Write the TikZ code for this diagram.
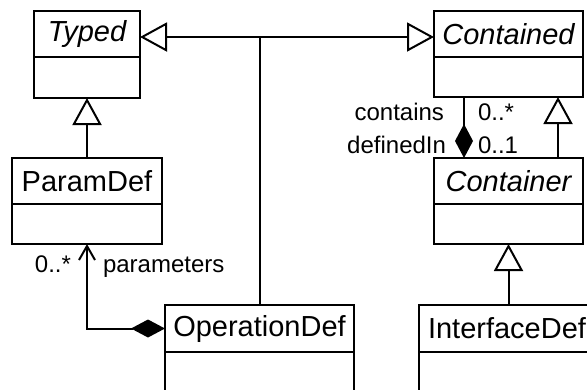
\documentclass[tikz,border=0pt]{standalone}
\usepackage{fontspec}
\setmainfont{Liberation Sans}
\usetikzlibrary{arrows.meta,positioning}

\tikzset{
  classhead/.style={draw, anchor=north west, inner sep=0pt, outer sep=0pt, minimum height=46pt, font=\fontsize{29}{34}\selectfont},
  classbody/.style={draw, inner sep=0pt, outer sep=0pt, minimum height=41pt},
  abstract/.style={font=\fontsize{29}{34}\selectfont\itshape},
  lbl/.style={inner sep=0pt, font=\fontsize{24}{28}\selectfont},
  inherit/.style={-{Triangle[open, length=27pt, width=29pt]}},
  owns/.style={{Diamond[length=34pt, width=18pt]}-{Straight Barb[length=14pt, width=16pt]}}
}

\begin{document}
\begin{tikzpicture}[x=1pt, y=-1pt, line width=2pt]
  \useasboundingbox (0,0) rectangle (587,389);
  \clip (0,0) rectangle (587,389);

  % classes
  \node[classhead, abstract, minimum width=106pt] (typedH) at (34,11) {Typed};
  \node[classbody, minimum width=106pt, below=0pt of typedH] (typedB) {};

  \node[classhead, abstract, minimum width=149pt] (containedH) at (434,11) {Contained};
  \node[classbody, minimum width=149pt, minimum height=40pt, below=0pt of containedH] (containedB) {};

  \node[classhead, minimum width=150pt] (paramH) at (12,158) {ParamDef};
  \node[classbody, minimum width=150pt, minimum height=40pt, below=0pt of paramH] (paramB) {};

  \node[classhead, abstract, minimum width=149pt] (containerH) at (434,158) {Container};
  \node[classbody, minimum width=149pt, minimum height=40pt, below=0pt of containerH] (containerB) {};

  \node[classhead, minimum width=189pt, minimum height=47pt] (operationH) at (165,305) {OperationDef};
  \node[classbody, minimum width=189pt, minimum height=60pt, below=0pt of operationH] (operationB) {};

  \node[classhead, minimum width=176pt, minimum height=47pt] (interfaceH) at (419,305) {InterfaceDef};
  \node[classbody, minimum width=176pt, minimum height=60pt, below=0pt of interfaceH] (interfaceB) {};

  % generalizations
  \coordinate (fork) at (operationH.north |- 0,37);
  \draw (operationH.north) -- (fork);
  \draw[inherit] (fork) -- (fork -| typedH.east);
  \draw[inherit] (fork) -- (fork -| containedH.west);
  \draw[inherit] (paramH.north) -- (typedB.south);
  \draw[inherit] ([xshift=-25pt]containerH.north east) -- ([xshift=-25pt]containedB.south east);
  \draw[inherit] (interfaceH.north -| containerB.south) -- (containerB.south);

  % compositions
  \draw[owns] (operationH.west) -| (paramB.south);
  \node[lbl, anchor=base east] (parammult) at ([xshift=-15pt, yshift=-28pt]paramB.south) {0..*};
  \node[lbl, anchor=base west] (paramrole) at ([xshift=15pt, yshift=-28pt]paramB.south) {parameters};

  \draw[{Diamond[length=34pt, width=18pt]}-] ([xshift=30pt]containerH.north west) -- ([xshift=30pt]containedB.south west);
  \node[lbl, anchor=base east] (containsrole) at ([xshift=11pt, yshift=38pt]containerH.north west) {contains};
  \node[lbl, anchor=base west] (containsmult) at ([xshift=43pt, yshift=38pt]containerH.north west) {0..*};
  \node[lbl, anchor=base east] (definedrole) at ([xshift=13pt, yshift=5pt]containerH.north west) {definedIn};
  \node[lbl, anchor=base west] (definedmult) at ([xshift=43pt, yshift=5pt]containerH.north west) {0..1};
\end{tikzpicture}
\end{document}
